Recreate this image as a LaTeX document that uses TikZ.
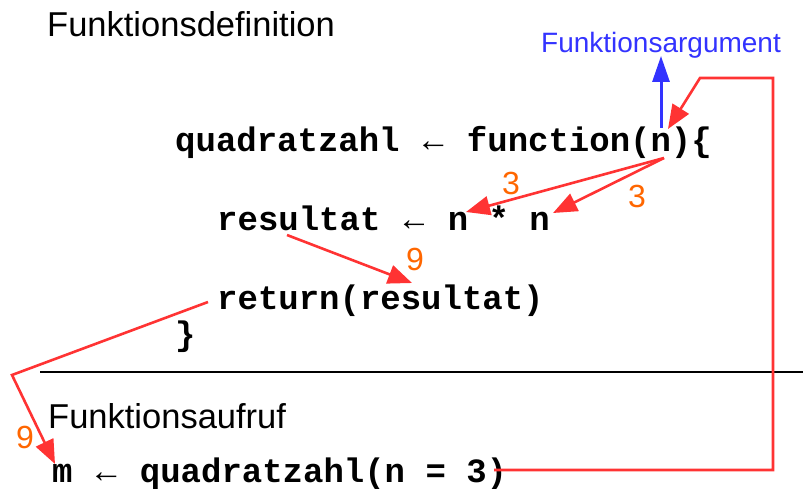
\documentclass[tikz,border=0pt]{standalone}
\usepackage{fontspec}
\setmainfont{Liberation Sans}
\newfontfamily\codefont{Liberation Mono}
\usetikzlibrary{arrows.meta}
\definecolor{myred}{HTML}{FF3333}
\definecolor{myorange}{HTML}{FF6600}
\definecolor{myblue}{HTML}{3333FF}
\newcommand\la{\makebox[0.78em]{\fontseries{m}\selectfont ←}}
\tikzset{
  code/.style={anchor=base west, inner sep=0pt, font=\codefont\bfseries\fontsize{34}{40}\selectfont},
  heading/.style={anchor=base west, inner sep=0pt, font=\fontsize{34.5}{40}\selectfont},
  numlabel/.style={inner sep=0pt, text=myorange, font=\fontsize{32}{38}\selectfont},
  redarrow/.style={draw=myred, line width=2.6pt, -{Triangle[length=24pt,width=19pt]}},
  bluearrow/.style={draw=myblue, line width=3pt, -{Triangle[length=26pt,width=17pt]}}
}
\begin{document}
\begin{tikzpicture}[x=1pt,y=-1pt]
\useasboundingbox (0,0) rectangle (803,489);
% headings
\node[heading] (hdef) at (47,37) {Funktionsdefinition};
\node[heading] (hcall) at (48,428) {Funktionsaufruf};
\node[anchor=base, inner sep=0pt, text=myblue, font=\fontsize{28}{34}\selectfont] (arg) at (661,53) {Funktionsargument};
% code
\node[code] (l1) at (175,152) {quadratzahl\ \la\ function(n)\{};
\node[code] (l2) at (217,230) {resultat\ \la\ n * n};
\node[code] (l3) at (217,309) {return(resultat)};
\node[code] (l4) at (175,345) {\}};
\node[code] (l5) at (52,482) {m\ \la\ quadratzahl(n = 3)};
% separator
\coordinate (sepL) at (40,372);
\coordinate (sepR) at (803,372);
\draw[line width=2.7pt] (sepL) -- (sepR);
% coordinates
\coordinate (argbase) at (661,128);
\coordinate (argtip) at (661,56);
\coordinate (callarg) at (494,470);
\coordinate (c1) at (773,470);
\coordinate (c2) at (773,78);
\coordinate (c3) at (700,78);
\coordinate (ntip) at (668,129);
\coordinate (nsrc) at (664,158);
\coordinate (n1) at (466,212);
\coordinate (n2) at (553,213);
\coordinate (ressrc) at (287,235);
\coordinate (restip) at (412,283);
\coordinate (retsrc) at (208,302);
\coordinate (retc) at (12,375);
\coordinate (mtip) at (55,464);
% connectors
\draw[bluearrow] (argbase) -- (argtip);
\draw[redarrow, line join=miter] (callarg) -- (c1) -- (c2) -- (c3) -- (ntip);
\draw[redarrow] (nsrc) -- (n1);
\draw[redarrow] (nsrc) -- (n2);
\draw[redarrow] (ressrc) -- (restip);
\draw[redarrow, line join=miter] (retsrc) -- (retc) -- (mtip);
% labels
\node[numlabel] (lab3a) at (511,183) {3};
\node[numlabel] (lab3b) at (637,196) {3};
\node[numlabel] (lab9a) at (415,259) {9};
\node[numlabel] (lab9b) at (25,437) {9};
\end{tikzpicture}
\end{document}
